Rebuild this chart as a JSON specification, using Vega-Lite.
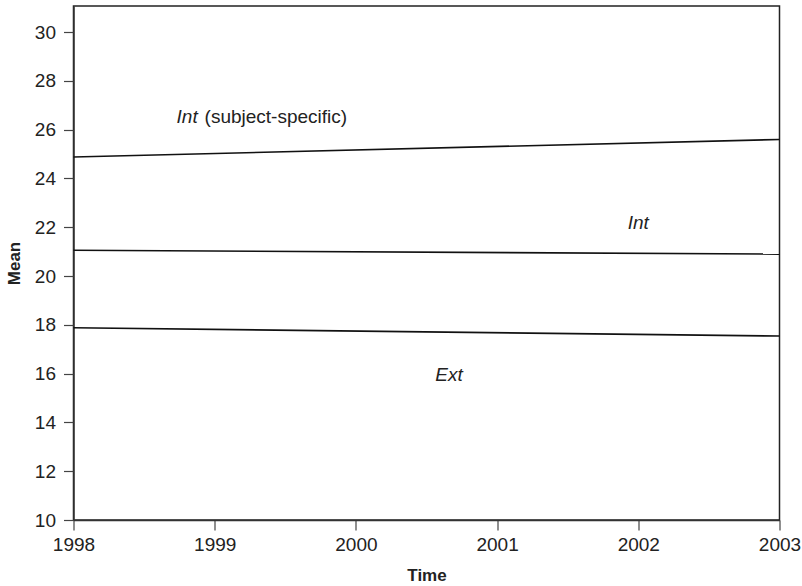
{
  "$schema": "https://vega.github.io/schema/vega-lite/v6.json",
  "autosize": {"type": "none"},
  "padding": {"left": 73.5, "top": 6, "right": 22, "bottom": 66},
  "width": 706,
  "height": 514,
  "background": "white",
  "config": {
    "font": "Liberation Sans",
    "view": {"stroke": "#222", "strokeWidth": 1.5},
    "axis": {
      "grid": false,
      "domainColor": "#333",
      "domainWidth": 1.5,
      "tickColor": "#444",
      "tickWidth": 1.2,
      "tickSize": 10,
      "labelFlush": false,
      "labelFont": "Liberation Sans",
      "labelFontSize": 19,
      "labelColor": "#222",
      "titleFont": "Liberation Sans",
      "titleFontSize": 17,
      "titleFontWeight": "bold",
      "titleColor": "#222"
    }
  },
  "datasets": {
    "trends": [
      {"series": "Int (subject-specific)", "Time": 1998, "Mean": 24.88},
      {"series": "Int (subject-specific)", "Time": 2003, "Mean": 25.6},
      {"series": "Int", "Time": 1998, "Mean": 21.06},
      {"series": "Int", "Time": 2003, "Mean": 20.9},
      {"series": "Ext", "Time": 1998, "Mean": 17.88},
      {"series": "Ext", "Time": 2003, "Mean": 17.54}
    ],
    "labels": [
      {"italic": "Int", "rest": "(subject-specific)", "Time": 1998.73, "Mean": 26.5},
      {"italic": "Int", "rest": "", "Time": 2002.0, "Mean": 22.17},
      {"italic": "Ext", "rest": "", "Time": 2000.66, "Mean": 15.95}
    ]
  },
  "layer": [
    {
      "data": {"name": "trends"},
      "mark": {"type": "line", "color": "#111", "strokeWidth": 1.6},
      "encoding": {
        "x": {
          "field": "Time",
          "type": "quantitative",
          "scale": {"domain": [1998, 2003], "nice": false, "zero": false},
          "axis": {"values": [1998, 1999, 2000, 2001, 2002, 2003], "format": "d", "labelPadding": 5, "titlePadding": 13}
        },
        "y": {
          "field": "Mean",
          "type": "quantitative",
          "scale": {"domain": [10, 31.07], "nice": false, "zero": false},
          "axis": {"values": [10, 12, 14, 16, 18, 20, 22, 24, 26, 28, 30], "labelPadding": 8, "titlePadding": 11}
        },
        "detail": {"field": "series"}
      }
    },
    {
      "data": {"name": "labels"},
      "mark": {"type": "text", "align": "center", "baseline": "middle", "fontStyle": "italic", "fontSize": 19, "color": "#222"},
      "transform": [{"filter": "datum.rest === ''"}],
      "encoding": {
        "x": {"field": "Time", "type": "quantitative"},
        "y": {"field": "Mean", "type": "quantitative"},
        "text": {"field": "italic"}
      }
    },
    {
      "data": {"name": "labels"},
      "mark": {"type": "text", "align": "left", "baseline": "middle", "fontStyle": "italic", "fontSize": 19, "color": "#222"},
      "transform": [{"filter": "datum.rest !== ''"}],
      "encoding": {
        "x": {"field": "Time", "type": "quantitative"},
        "y": {"field": "Mean", "type": "quantitative"},
        "text": {"field": "italic"}
      }
    },
    {
      "data": {"name": "labels"},
      "mark": {"type": "text", "align": "left", "baseline": "middle", "fontSize": 19, "color": "#222", "dx": 28},
      "transform": [{"filter": "datum.rest !== ''"}],
      "encoding": {
        "x": {"field": "Time", "type": "quantitative"},
        "y": {"field": "Mean", "type": "quantitative"},
        "text": {"field": "rest"}
      }
    }
  ]
}
